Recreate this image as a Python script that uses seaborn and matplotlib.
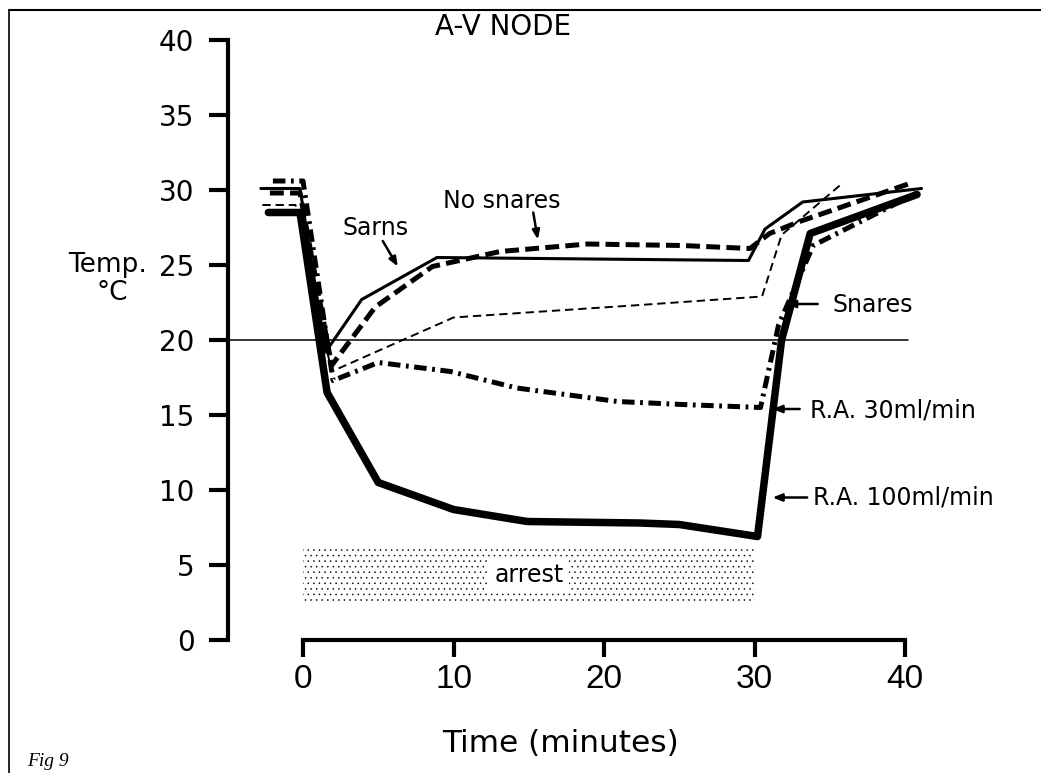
import matplotlib
matplotlib.use("Agg")
import matplotlib.pyplot as plt
from matplotlib.lines import Line2D
import seaborn as sns
import pandas as pd

# ---------------- data ----------------
ra100_t = [-2.3, -0.2, 1.6, 5.0, 10.0, 14.9, 22.4, 25.0, 30.2, 31.8, 33.7, 40.8]
ra100_v = [28.5, 28.5, 16.5, 10.5, 8.7, 7.9, 7.8, 7.7, 6.9, 20.0, 27.1, 29.7]

sarns_t = [-2.8, -0.2, 1.5, 3.9, 8.9, 29.6, 30.7, 33.2, 41.1]
sarns_v = [30.1, 30.1, 19.2, 22.7, 25.5, 25.3, 27.4, 29.2, 30.1]

nosnares_t = [-2.2, -0.2, 1.9, 4.8, 8.6, 13.1, 18.9, 25.2, 29.7, 31.0, 33.0, 40.5]
nosnares_v = [29.8, 29.8, 18.3, 22.2, 24.9, 25.9, 26.4, 26.3, 26.1, 27.1, 27.9, 30.5]

snares_t = [-2.7, -0.5, 1.9, 10.0, 15.9, 21.9, 30.5, 31.8, 35.9]
snares_v = [29.0, 29.0, 17.9, 21.5, 21.9, 22.3, 22.9, 27.0, 30.5]

ra30_t = [-2.0, 0.0, 2.0, 5.0, 9.8, 14.2, 20.9, 25.2, 30.4, 31.6, 33.9, 40.8]
ra30_v = [30.6, 30.6, 17.3, 18.5, 17.9, 16.8, 15.9, 15.7, 15.5, 21.0, 26.3, 29.8]

ref_level = 20
ref_span = [-5, 40.2]

arrest_t = [0, 30]
arrest_low = 2.5
arrest_high = 6.2

x_ticks = [0, 10, 20, 30, 40]
y_ticks = [0, 5, 10, 15, 20, 25, 30, 35, 40]

# ---------------- style ----------------
sns.set_style("white")
plt.rcParams["font.family"] = ["DejaVu Sans"]
plt.rcParams["lines.scale_dashes"] = False
plt.rcParams["hatch.linewidth"] = 0.35
for key in ["text.color", "axes.labelcolor", "xtick.color", "ytick.color",
            "axes.edgecolor"]:
    plt.rcParams[key] = "black"

fig = plt.figure(figsize=(10.41, 7.73), dpi=100)
ax = fig.add_axes([0.17541, 0.11384, 0.78069, 0.87322])
ax.set_xlim(-8, 46)
ax.set_ylim(-3, 42)

series = [
    (ra100_t, ra100_v, 5.4, "-", 6),
    (sarns_t, sarns_v, 2.2, "-", 4),
    (nosnares_t, nosnares_v, 3.6, (0, (10, 4.5)), 5),
    (snares_t, snares_v, 1.4, (0, (6, 3.5)), 3),
    (ra30_t, ra30_v, 3.6, (0, (9, 4, 2, 4)), 5),
]
for t, v, lw, ls, z in series:
    df = pd.DataFrame({"t": t, "v": v})
    sns.lineplot(data=df, x="t", y="v", ax=ax, sort=False, estimator=None,
                 color="black", linewidth=lw, linestyle=ls, zorder=z)

# reference line at 20
sns.lineplot(x=ref_span, y=[ref_level, ref_level], ax=ax, color="black",
             linewidth=1.1, zorder=2)

# arrest box
ax.fill_between(arrest_t, arrest_low, arrest_high, facecolor="white",
                edgecolor="black", hatch="...", linewidth=0, zorder=1)
ax.text(15.0, 4.35, "arrest", ha="center", va="center", fontsize=17,
        zorder=3, bbox=dict(facecolor="white", edgecolor="none", pad=4))

# axes styling
ax.set_xlabel("")
ax.set_ylabel("")
for s in ["top", "right"]:
    ax.spines[s].set_visible(False)
ax.spines["left"].set_position(("data", -5))
ax.spines["left"].set_bounds(0, 40)
ax.spines["bottom"].set_position(("data", 0))
ax.spines["bottom"].set_bounds(0, 40)
for s in ["left", "bottom"]:
    ax.spines[s].set_linewidth(3)
    ax.spines[s].set_color("black")
ax.set_xticks(x_ticks)
ax.set_yticks(y_ticks)
ax.set_xticklabels([str(x) for x in x_ticks])
ax.set_yticklabels([str(y) for y in y_ticks])
ax.tick_params(axis="y", direction="out", length=14, width=3, pad=10,
               labelsize=20, left=True, color="black", labelcolor="black")
ax.tick_params(axis="x", direction="out", length=12, width=3, pad=5,
               labelsize=24, bottom=True, color="black", labelcolor="black",
               labelfontfamily="Liberation Sans")
ax.grid(False)
ax.patch.set_alpha(0)

# labels
ax.text(13.3, 40.9, "A-V NODE", ha="center", va="center", fontsize=20)
fig.text(147 / 1041, 1 - 265 / 773, "Temp.", ha="right", va="center", fontsize=19)
fig.text(112 / 1041, 1 - 293 / 773, "°C", ha="center", va="center", fontsize=19)
fig.text(560 / 1041, 1 - 744 / 773, "Time (minutes)", ha="center", va="center",
         fontsize=22.5)
fig.text(27 / 1041, 1 - 761 / 773, "Fig 9", ha="left", va="center",
         fontsize=14, fontfamily="Liberation Serif", style="italic")

# annotations with arrows
arrow = dict(arrowstyle="-|>,head_length=0.55,head_width=0.22", lw=1.8,
             color="black", shrinkA=0, shrinkB=0)
ax.text(4.8, 27.5, "Sarns", ha="center", va="center", fontsize=17)
ax.annotate("", xy=(6.3, 24.9), xytext=(5.3, 26.6), arrowprops=arrow)
ax.text(13.2, 29.3, "No snares", ha="center", va="center", fontsize=17)
ax.annotate("", xy=(15.6, 26.7), xytext=(15.3, 28.5), arrowprops=arrow)
ax.text(35.2, 22.35, "Snares", ha="left", va="center", fontsize=17)
ax.annotate("", xy=(32.1, 22.4), xytext=(34.2, 22.4), arrowprops=arrow)
ax.text(33.7, 15.3, "R.A. 30ml/min", ha="left", va="center", fontsize=17)
ax.annotate("", xy=(31.2, 15.4), xytext=(33.0, 15.4), arrowprops=arrow)
ax.text(33.9, 9.5, "R.A. 100ml/min", ha="left", va="center", fontsize=17)
ax.annotate("", xy=(31.2, 9.5), xytext=(33.5, 9.5), arrowprops=arrow)

# page frame
fig.add_artist(Line2D([9 / 1041, 1.0], [1 - 10 / 773, 1 - 10 / 773],
                      transform=fig.transFigure, color="black", lw=1.5))
fig.add_artist(Line2D([9 / 1041, 9 / 1041], [0.0, 1 - 10 / 773],
                      transform=fig.transFigure, color="black", lw=1.2))

fig.savefig("out.png", dpi=100)
